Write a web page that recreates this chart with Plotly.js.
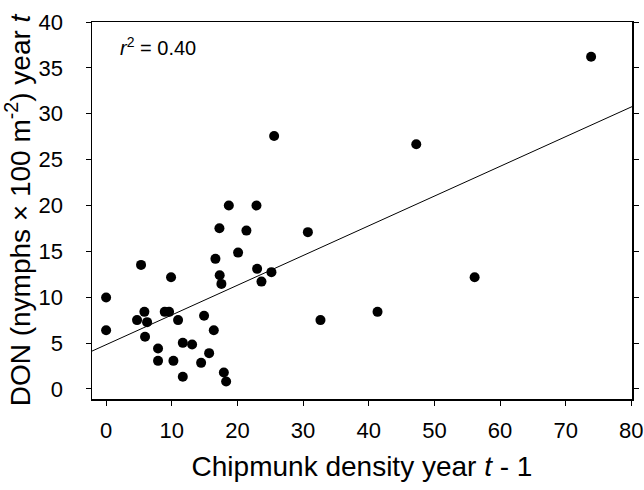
<!DOCTYPE html>
<html>
<head>
<meta charset="utf-8">
<script src="https://cdn.plot.ly/plotly-3.0.1.min.js"></script>
<style>html,body{margin:0;padding:0;background:#fff;}#chart{width:644px;height:490px;}</style>
</head>
<body>
<div id="chart"></div>
<script>
// Chipmunk density in year t-1 (x) vs density of nymphs DON in year t (y)
const chipmunkDensity = [0, 0, 5.32, 5.83, 4.71, 6.24, 5.93, 7.91, 7.91, 8.93, 9.59, 9.89, 10.96, 10.25, 11.68, 11.68, 13.1, 14.47, 14.92, 15.69, 16.4, 16.65, 17.26, 17.3, 17.56, 17.93, 18.28, 18.69, 20.1, 21.37, 22.9, 23.0, 23.66, 25.18, 25.59, 30.73, 32.65, 41.34, 47.24, 56.13, 73.87];
const donValues = [9.96, 6.4, 13.52, 8.4, 7.5, 7.28, 5.68, 4.4, 3.06, 8.4, 8.4, 12.18, 7.5, 3.06, 5.02, 1.32, 4.84, 2.84, 7.97, 3.9, 6.4, 14.18, 17.52, 12.4, 11.45, 1.79, 0.81, 19.99, 14.86, 17.26, 19.99, 13.09, 11.7, 12.73, 27.58, 17.09, 7.5, 8.4, 26.68, 12.18, 36.22];
// Regression fit shown in the figure
const fitIntercept = 4.82;
const fitSlope = 0.324;
const rSquared = "0.40";
const xTicks = [0, 10, 20, 30, 40, 50, 60, 70, 80];
const yTicks = [0, 5, 10, 15, 20, 25, 30, 35, 40];

const xRange = [-2.15, 80.1];
const yRange = [-1.1, 40];
const fitX = [xRange[0], xRange[1]];
const fitY = fitX.map(x => fitIntercept + fitSlope * x);

const traces = [
  {x: fitX, y: fitY, mode: 'lines', type: 'scatter', line: {color: '#000', width: 1}, hoverinfo: 'skip', cliponaxis: true},
  {x: chipmunkDensity, y: donValues, mode: 'markers', type: 'scatter', marker: {color: '#000', size: 10}, cliponaxis: false}
];

const font = 'Arial, "Liberation Sans", sans-serif';
const layout = {
  width: 644, height: 490,
  margin: {l: 92, r: 12, t: 22, b: 91},
  paper_bgcolor: '#fff', plot_bgcolor: '#fff',
  showlegend: false,
  font: {family: font, color: '#000'},
  xaxis: {
    range: xRange, tickvals: xTicks, ticktext: xTicks.map(String),
    showgrid: false, zeroline: false,
    showline: true, linecolor: '#000', linewidth: 1.5, mirror: true,
    ticks: 'outside', ticklen: 5, tickwidth: 1, tickcolor: '#000',
    ticklabelstandoff: 6,
    tickfont: {size: 22, family: font, color: '#000'},
    title: {text: 'Chipmunk density year <i>t</i> - 1', font: {size: 28, family: font, color: '#000'}, standoff: 14}
  },
  yaxis: {
    range: yRange, tickvals: yTicks, ticktext: yTicks.map(String),
    showgrid: false, zeroline: false,
    showline: true, linecolor: '#000', linewidth: 1.5, mirror: 'ticks',
    ticks: 'outside', ticklen: 5, tickwidth: 1, tickcolor: '#000',
    ticklabelstandoff: 18,
    tickfont: {size: 22, family: font, color: '#000'},
    title: {text: 'DON (nymphs × 100 m<sup>-2</sup>) year <i>t</i>', font: {size: 28, family: font, color: '#000'}, standoff: 0}
  },
  annotations: [{
    xref: 'paper', yref: 'paper', x: 0.048, y: 0.935, xanchor: 'left', yanchor: 'middle',
    text: '<i>r</i><sup>2</sup> = ' + rSquared, showarrow: false,
    font: {size: 20, family: font, color: '#000'}
  }]
};

Plotly.newPlot('chart', traces, layout, {displayModeBar: false, staticPlot: true});
</script>
</body>
</html>
